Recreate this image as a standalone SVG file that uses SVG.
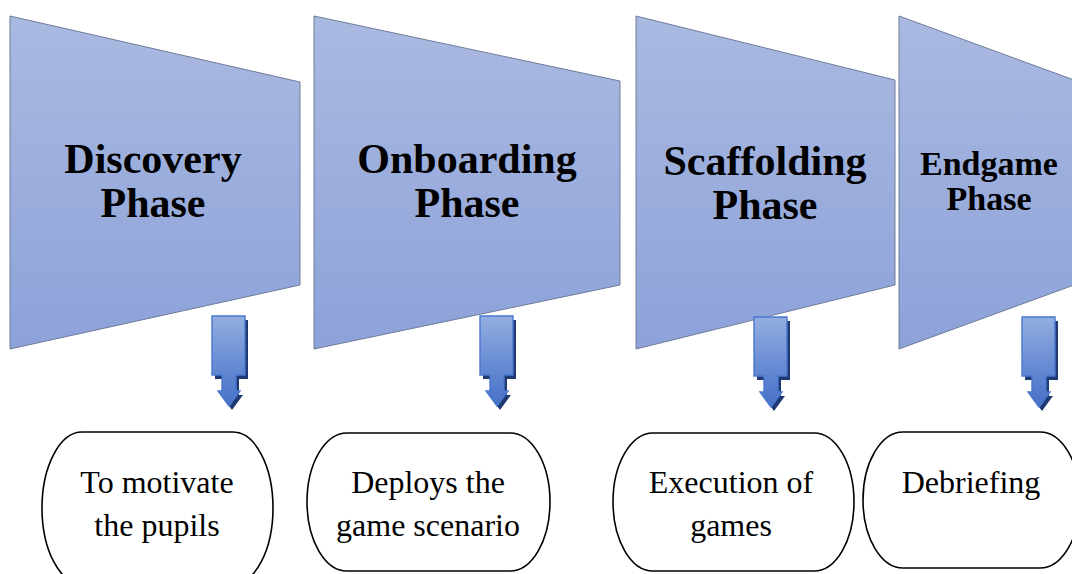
<svg xmlns="http://www.w3.org/2000/svg" xmlns:xlink="http://www.w3.org/1999/xlink" width="1072" height="574" viewBox="0 0 1072 574">
<defs>
<linearGradient id="trapG" x1="0" y1="0" x2="0" y2="1">
<stop offset="0" stop-color="#AAB9E0"/>
<stop offset="1" stop-color="#8CA2D9"/>
</linearGradient>
<linearGradient id="arrG" x1="0" y1="0" x2="0" y2="1">
<stop offset="0" stop-color="#93AEE0"/>
<stop offset="0.45" stop-color="#6F91D6"/>
<stop offset="1" stop-color="#4570C6"/>
</linearGradient>
<path id="arr" d="M0,0 H33 V59 H24 V75 H28 L17,90 L6,75 H10 V59 H0 Z"/>
<style>
.trap{fill:url(#trapG);stroke:#6F7C99;stroke-width:1}
.title{font-family:'Liberation Serif',serif;font-weight:bold;fill:#000;text-anchor:middle}
.box{fill:#fff;stroke:#000;stroke-width:1.6}
.lbl{font-family:'Liberation Serif',serif;font-size:32px;fill:#000;text-anchor:middle}
.arrSh{fill:#1F3A72}
.arrB{fill:url(#arrG);stroke:#4A78CE;stroke-width:1.4}
</style>
</defs>
<g id="phase-discovery">
<polygon class="trap" points="10,16 300,82 300,285 10,349"/>
<text class="title" font-size="42" x="153" y="173">Discovery</text>
<text class="title" font-size="42" x="153" y="217">Phase</text>
</g>
<g id="phase-onboarding">
<polygon class="trap" points="314,16 620,81 620,285 314,349"/>
<text class="title" font-size="42" x="467" y="173">Onboarding</text>
<text class="title" font-size="42" x="467" y="217">Phase</text>
</g>
<g id="phase-scaffolding">
<polygon class="trap" points="636,16 895,80 895,285 636,349"/>
<text class="title" font-size="42" x="765" y="175">Scaffolding</text>
<text class="title" font-size="42" x="765" y="219">Phase</text>
</g>
<g id="phase-endgame">
<polygon class="trap" points="899,16 1074,80 1074,285 899,349"/>
<text class="title" font-size="34" x="989" y="175">Endgame</text>
<text class="title" font-size="34" x="989" y="210">Phase</text>
</g>
<g id="connectors">
<use xlink:href="#arr" class="arrSh" x="215" y="320"/>
<use xlink:href="#arr" class="arrB" x="212" y="316"/>
<use xlink:href="#arr" class="arrSh" x="483" y="320"/>
<use xlink:href="#arr" class="arrB" x="480" y="316"/>
<use xlink:href="#arr" class="arrSh" x="757" y="321"/>
<use xlink:href="#arr" class="arrB" x="754" y="317"/>
<use xlink:href="#arr" class="arrSh" x="1025" y="321"/>
<use xlink:href="#arr" class="arrB" x="1022" y="317"/>
</g>
<g id="box-motivate">
<rect class="box" x="42" y="432" width="231" height="152" rx="40" ry="76"/>
<text class="lbl" x="157" y="493">To motivate</text>
<text class="lbl" x="157" y="536">the pupils</text>
</g>
<g id="box-deploys">
<rect class="box" x="307" y="433" width="243" height="138" rx="40" ry="69"/>
<text class="lbl" x="428" y="493">Deploys the</text>
<text class="lbl" x="428" y="536">game scenario</text>
</g>
<g id="box-execution">
<rect class="box" x="613" y="433" width="241" height="138" rx="40" ry="69"/>
<text class="lbl" x="731" y="493">Execution of</text>
<text class="lbl" x="731" y="536">games</text>
</g>
<g id="box-debriefing">
<rect class="box" x="863" y="432" width="217" height="136" rx="40" ry="68"/>
<text class="lbl" x="971" y="493">Debriefing</text>
</g>
</svg>
